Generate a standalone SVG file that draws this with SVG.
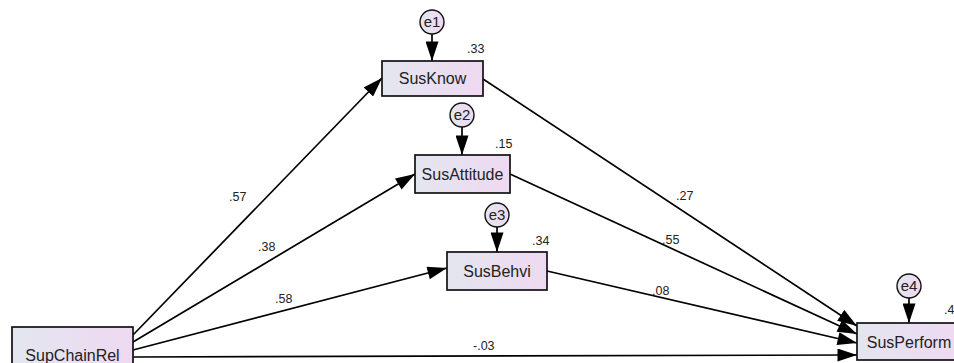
<svg xmlns="http://www.w3.org/2000/svg" width="954" height="363" viewBox="0 0 954 363">
<defs>
<linearGradient id="g" x1="0" y1="0" x2="1" y2="0">
<stop offset="0" stop-color="#E3E6EF"/>
<stop offset="1" stop-color="#EFD9F2"/>
</linearGradient>
<marker id="ah" markerUnits="userSpaceOnUse" markerWidth="20" markerHeight="13" refX="18" refY="6" orient="auto" viewBox="0 0 18 12">
<path d="M0,0 L18,6 L0,12 Z" fill="#000"/>
</marker>
<style>
.box{fill:url(#g);stroke:#111;stroke-width:1.7}
.err{fill:url(#g);stroke:#111;stroke-width:1.4}
.t{font-family:"Liberation Sans",Arial,sans-serif;font-size:16px;fill:#222;text-anchor:middle}
.et{font-family:"Liberation Sans",Arial,sans-serif;font-size:15px;fill:#222;text-anchor:middle}
.n{font-family:"Liberation Sans",Arial,sans-serif;font-size:12.5px;fill:#222}
.c{stroke:#000;stroke-width:1.7;fill:none;marker-end:url(#ah)}
</style>
</defs>
<rect width="954" height="363" fill="#fff"/>
<g id="connectors">
<line class="c" x1="133" y1="335" x2="382" y2="78"/>
<line class="c" x1="133" y1="342" x2="415" y2="174"/>
<line class="c" x1="133" y1="350" x2="447" y2="268"/>
<line class="c" x1="133" y1="357" x2="857" y2="355"/>
<line class="c" x1="483" y1="79" x2="857" y2="326"/>
<line class="c" x1="510" y1="174" x2="857" y2="334"/>
<line class="c" x1="547" y1="271" x2="857" y2="343"/>
<line class="c" x1="432" y1="34" x2="432" y2="61"/>
<line class="c" x1="462" y1="127" x2="462" y2="155"/>
<line class="c" x1="497" y1="227" x2="497" y2="252"/>
<line class="c" x1="909" y1="298" x2="909" y2="323"/>
<text class="n" x="229" y="201">.57</text>
<text class="n" x="258" y="251">.38</text>
<text class="n" x="275" y="303">.58</text>
<text class="n" x="473" y="350">-.03</text>
<text class="n" x="676" y="200">.27</text>
<text class="n" x="662" y="244">.55</text>
<text class="n" x="652" y="295">.08</text>
</g>
<g id="SupChainRel">
<rect class="box" x="12" y="327" width="121" height="38"/>
<text class="t" x="72.5" y="361">SupChainRel</text>
</g>
<g id="SusKnow">
<rect class="box" x="382" y="61" width="101" height="35"/>
<text class="t" x="432.5" y="84">SusKnow</text>
<text class="n" x="467" y="53">.33</text>
</g>
<g id="SusAttitude">
<rect class="box" x="415" y="155" width="95" height="38"/>
<text class="t" x="462.5" y="180">SusAttitude</text>
<text class="n" x="495" y="148">.15</text>
</g>
<g id="SusBehvi">
<rect class="box" x="447" y="252" width="100" height="38"/>
<text class="t" x="497" y="277">SusBehvi</text>
<text class="n" x="532" y="245">.34</text>
</g>
<g id="SusPerform">
<rect class="box" x="857" y="323" width="106" height="37"/>
<text class="t" x="909" y="348">SusPerform</text>
<text class="n" x="944" y="314">.4</text>
</g>
<g id="e1">
<circle class="err" cx="432" cy="22" r="12"/>
<text class="et" x="432" y="27">e1</text>
</g>
<g id="e2">
<circle class="err" cx="462" cy="115" r="12"/>
<text class="et" x="462" y="120">e2</text>
</g>
<g id="e3">
<circle class="err" cx="497" cy="215" r="12"/>
<text class="et" x="497" y="220">e3</text>
</g>
<g id="e4">
<circle class="err" cx="909" cy="286" r="12"/>
<text class="et" x="909" y="291">e4</text>
</g>
</svg>
